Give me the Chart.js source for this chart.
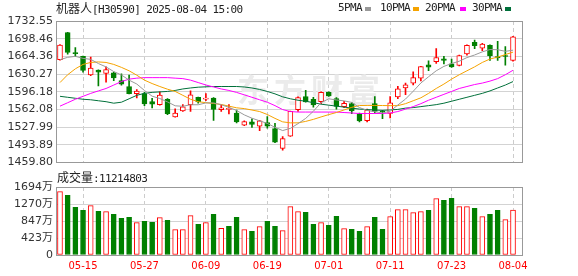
<!DOCTYPE html>
<html>
<head>
<meta charset="utf-8">
<script src="https://cdn.jsdelivr.net/npm/chart.js@4.4.1/dist/chart.umd.min.js"></script>
<style>
  body { margin: 0; background: #fff; }
  #wrap { position: relative; width: 578px; height: 276px; overflow: hidden; background: #fff; }
  canvas { position: absolute; left: 0; }
  .txt { position: absolute; white-space: nowrap; color: #222; line-height: 14px; }
  .cjk { font-family: "Noto Sans CJK SC"; font-size: 12px; }
  .mono { font-family: "DejaVu Sans Mono"; font-size: 11px; letter-spacing: -0.6px; }
  .sw { position: absolute; width: 6px; height: 4px; top: 7px; }
</style>
</head>
<body>
<div id="wrap">
  <canvas id="priceChart" width="578" height="172" style="top:0"></canvas>
  <canvas id="volChart" width="578" height="104" style="top:172px"></canvas>
  <div class="txt" style="left:56px;top:1px"><span class="cjk">机器人</span><span class="mono">[H30590] 2025-08-04 15:00</span></div>
  <div class="txt mono" style="left:338px;top:1px">5PMA</div><div class="sw" style="left:365px;background:#999999"></div>
  <div class="txt mono" style="left:380px;top:1px">10PMA</div><div class="sw" style="left:413px;background:#f5a300"></div>
  <div class="txt mono" style="left:425px;top:1px">20PMA</div><div class="sw" style="left:460px;background:#ff00ff"></div>
  <div class="txt mono" style="left:472px;top:1px">30PMA</div><div class="sw" style="left:505px;background:#00703a"></div>
  <div class="txt" style="left:57px;top:170px"><span class="cjk">成交量</span><span class="mono" id="volLabel"></span></div>
</div>
<script>
// trading days 2025-05-12 .. 2025-08-04
const dates = ['05-12','05-13','05-14','05-15','05-16','05-19','05-20','05-21','05-22','05-23',
  '05-26','05-27','05-28','05-29','05-30','06-03','06-04','06-05','06-06','06-09',
  '06-10','06-11','06-12','06-13','06-16','06-17','06-18','06-19','06-20','06-23',
  '06-24','06-25','06-26','06-27','06-30','07-01','07-02','07-03','07-04','07-07',
  '07-08','07-09','07-10','07-11','07-14','07-15','07-16','07-17','07-18','07-21',
  '07-22','07-23','07-24','07-25','07-28','07-29','07-30','07-31','08-01','08-04'];
const dateTickIdx = [3, 11, 19, 27, 35, 43, 51, 59];

const openP = [1658, 1710.4, 1671, 1664.4, 1628.4, 1638, 1631.4, 1632.7, 1617.6, 1606.2,
  1592.4, 1592.6, 1576.9, 1571.2, 1581.6, 1547.5, 1558.9, 1571.2, 1585.4, 1582,
  1583.9, 1561.7, 1562, 1554.7, 1531.4, 1538.1, 1529.5, 1536.7, 1524.8, 1486.9,
  1510.4, 1561.7, 1587, 1581.6, 1576.9, 1594.9, 1583.1, 1567.4, 1573.4, 1553.5,
  1540.3, 1573.4, 1559, 1554.1, 1586.3, 1603.4, 1612.8, 1622.3, 1647.9, 1654,
  1659.6, 1649.8, 1646.9, 1669.1, 1691.5, 1679.9, 1685.4, 1664, 1665.9, 1656.4];
const highP = [1687, 1710.8, 1681.4, 1665, 1663, 1638.5, 1644, 1634, 1630.8, 1628.4,
  1600.5, 1594.9, 1583.5, 1595.8, 1583, 1563.2, 1571.5, 1597.7, 1586, 1592.4,
  1585, 1571.5, 1571.1, 1560.8, 1540, 1543.8, 1540.9, 1548, 1535.2, 1509.6,
  1558.9, 1586.3, 1599, 1585.4, 1596, 1596, 1585, 1577.8, 1575, 1555,
  1562.6, 1587, 1560.2, 1587, 1606.6, 1612.8, 1634.6, 1645, 1655.5, 1679.2,
  1664.4, 1659.3, 1666.8, 1686.7, 1695.8, 1689.6, 1686.7, 1693.4, 1683, 1703];
const lowP = [1657, 1668.7, 1664.4, 1634, 1627, 1607.2, 1614.7, 1617.6, 1609, 1592,
  1584.4, 1569.3, 1565, 1570, 1552, 1546.9, 1558, 1557.9, 1574, 1578.7,
  1540.9, 1557.9, 1553.2, 1535.8, 1530.5, 1527.2, 1521, 1525.7, 1498, 1483.5,
  1510, 1558.3, 1576, 1566.4, 1573, 1587, 1562.6, 1565.5, 1554, 1538,
  1538, 1555, 1544.3, 1545.6, 1582.5, 1590.5, 1609.4, 1617, 1636.5, 1650.7,
  1649.8, 1643.2, 1646, 1666.8, 1679.2, 1675.4, 1656.4, 1656.4, 1647.3, 1655];
const closeP = [1686, 1671.9, 1669.5, 1637.1, 1641.6, 1633.7, 1639, 1622.7, 1610.6, 1592.4,
  1597.3, 1572.7, 1572.1, 1589.6, 1553.8, 1555, 1567, 1590.1, 1576.5, 1583.5,
  1562, 1565.1, 1563, 1538.1, 1538.6, 1533, 1539.9, 1529.5, 1498.6, 1505.8,
  1558.3, 1584.8, 1576.3, 1570.6, 1594.9, 1588.2, 1567.9, 1573.6, 1558.9, 1539.9,
  1560.8, 1558, 1557, 1574.8, 1601.5, 1609.4, 1623.2, 1644.5, 1643.6, 1662.1,
  1656.4, 1644.1, 1665.9, 1685.8, 1685.2, 1688.1, 1665.9, 1661.1, 1664, 1702.2];

const ma5 = [1657.9, 1662.5, 1664.4, 1660.5, 1658.5, 1650.5, 1644, 1635, 1628.5, 1618.5,
  1611, 1598.5, 1587.5, 1583, 1576.5, 1569, 1568, 1571, 1571, 1574.5,
  1574.5, 1571, 1566, 1560, 1551.5, 1545, 1540, 1535, 1527.5, 1521.2,
  1525.5, 1534.5, 1544.7, 1558.5, 1575, 1582.5, 1580.2, 1578.5, 1575.5, 1565.6,
  1560, 1557.5, 1555.2, 1558.5, 1570.5, 1582, 1597, 1613, 1625, 1636.5,
  1645, 1650.5, 1655, 1662, 1667, 1673, 1677.5, 1677.2, 1674, 1676.3];
const ma10 = [1613.8, 1628.9, 1640.3, 1648.8, 1652.6, 1653.6, 1652.6, 1648.8, 1643.1, 1636.5,
  1628, 1618.5, 1611.9, 1606.2, 1601, 1596.7, 1589.2, 1581.6, 1576.9, 1575,
  1573.5, 1571.6, 1568.3, 1565.1, 1563.6, 1560.8, 1557.9, 1552.2, 1544.7, 1538,
  1536.1, 1536.1, 1538.9, 1542.8, 1547.5, 1552, 1556, 1561, 1566, 1569.5,
  1569.7, 1569.7, 1569.5, 1569.3, 1569.3, 1573.1, 1578.7, 1584.4, 1592.9, 1602.4,
  1610.9, 1620.4, 1628.9, 1636.5, 1644.1, 1652.6, 1659.2, 1663, 1667.8, 1672.5];
const ma20 = [1568.3, 1574.9, 1581.6, 1587.3, 1592.9, 1597.7, 1602.4, 1609, 1615.7, 1620.4,
  1622.3, 1623.3, 1623.3, 1623.3, 1623.3, 1622.3, 1621.4, 1618.5, 1613.8, 1609.1,
  1605.3, 1601.5, 1598.6, 1594.8, 1590.1, 1585.4, 1580.6, 1575.9, 1569.3, 1561.7,
  1557.9, 1556.9, 1556.9, 1556.9, 1556.9, 1556.9, 1556.9, 1556, 1555.1, 1554.1,
  1554.1, 1554.1, 1554.1, 1555.1, 1557.9, 1562.6, 1567.4, 1573.1, 1579.7, 1585.4,
  1591.1, 1596.7, 1602.4, 1606.2, 1610, 1612.8, 1616.6, 1621.4, 1628.9, 1637.5];
const ma30 = [1587.3, 1585.4, 1583.5, 1581.6, 1580.6, 1578.7, 1576.9, 1574, 1575.9, 1582.5,
  1589.2, 1593, 1594.9, 1595.8, 1596.7, 1598.6, 1601.5, 1603.4, 1604.9, 1605.6,
  1606.2, 1606.2, 1606.2, 1606.2, 1605.3, 1603.4, 1600.5, 1596.7, 1592, 1586.3,
  1582.5, 1579.7, 1577.8, 1575, 1572.1, 1570.2, 1568.3, 1566.4, 1564.5, 1562.6,
  1561.7, 1560.7, 1560.2, 1561, 1562, 1564.5, 1565.5, 1567.4, 1569.3, 1571.2,
  1574, 1577.8, 1581.6, 1585.4, 1589.2, 1593, 1597.7, 1603.4, 1609, 1615.7];

// volume in 万 (10k)
const volume = [1579, 1487, 1188, 1113, 1231, 1089, 1081, 1014, 914, 939,
  807, 839, 815, 932, 864, 633, 633, 981, 765, 807,
  1014, 665, 715, 939, 633, 590, 707, 839, 715, 608,
  1206, 1081, 1064, 765, 807, 740, 964, 658, 640, 590,
  707, 939, 640, 957, 1131, 1131, 1056, 1081, 1113, 1405,
  1363, 1412, 1206, 1206, 1163, 957, 1014, 1113, 882, 1121.4803];
const lastVolume = 11214803;

const priceTicks = [1459.80, 1493.89, 1527.99, 1562.08, 1596.18, 1630.27, 1664.36, 1698.46, 1732.55];
const volTicks = [0, 423.5, 847, 1270.5, 1694];
const volTickLabels = ['0', '423万', '847万', '1270万', '1694万'];

document.getElementById('volLabel').textContent = ':' + lastVolume;

const RED = '#ff0000';
const GREEN = '#008000';
const up = closeP.map((c, i) => c >= openP[i]);
const volUp = closeP.map((c, i) => i === 0 ? up[0] : c >= closeP[i - 1]);

const tickFont = { family: '"DejaVu Sans", "Noto Sans CJK SC"', size: 11 };

// box round the plot area
const frame = {
    id: 'frame',
    afterDatasetsDraw(chart) {
        const { ctx, chartArea: a } = chart;
        ctx.save();
        ctx.strokeStyle = '#999999';
        ctx.lineWidth = 1;
        ctx.strokeRect(Math.floor(a.left) + 0.5, Math.floor(a.top) + 0.5,
            Math.round(a.right - a.left), Math.round(a.bottom - a.top));
        ctx.restore();
    }
};

const watermark = {
    id: 'watermark',
    beforeDatasetsDraw(chart) {
        const ctx = chart.ctx;
        ctx.save();
        ctx.font = 'bold 32px "Noto Sans CJK SC"';
        ctx.fillStyle = '#ebebeb';
        ctx.textAlign = 'center';
        ctx.textBaseline = 'middle';
        ['东', '方', '财', '富'].forEach((ch, k) => ctx.fillText(ch, 253 + k * 37, 90));
        ctx.restore();
    }
};

const xScale = (showLabels, height) => ({
    type: 'linear',
    min: -0.52,
    max: 60.17,
    offset: false,
    bounds: 'data',
    afterBuildTicks: s => { s.ticks = dateTickIdx.map(v => ({ value: v })); },
    afterFit: s => { s.height = height; },
    grid: { color: '#cccccc', offset: false, drawTicks: false },
    border: { display: false, dash: [4, 3] },
    ticks: {
        display: showLabels,
        autoSkip: false,
        maxRotation: 0,
        padding: 5,
        color: RED,
        font: { family: '"DejaVu Sans"', size: 10 },
        callback: v => dates[v]
    }
});

const line = (label, values, color) => ({
    type: 'line',
    label: label,
    data: values.map((v, i) => ({ x: i, y: v })),
    borderColor: color,
    borderWidth: 1,
    pointRadius: 0,
    tension: 0
});

// price panel: MA lines, candle bodies, wicks
new Chart(document.getElementById('priceChart'), {
    type: 'bar',
    data: {
        datasets: [
            line('5PMA', ma5, '#999999'),
            line('10PMA', ma10, '#f5a300'),
            line('20PMA', ma20, '#ff00ff'),
            line('30PMA', ma30, '#00703a'),
            {
                type: 'bar',
                label: 'body',
                data: openP.map((o, i) => ({ x: i, y: [o, closeP[i]] })),
                backgroundColor: up.map(u => u ? '#ffffff' : GREEN),
                borderColor: up.map(u => u ? RED : GREEN),
                borderWidth: 1,
                borderSkipped: false,
                barThickness: 5,
                minBarLength: 1,
                grouped: false
            },
            {
                type: 'bar',
                label: 'wick',
                data: lowP.map((l, i) => ({ x: i, y: [l, highP[i]] })),
                backgroundColor: up.map(u => u ? RED : GREEN),
                borderWidth: 0,
                barThickness: 1,
                grouped: false
            }
        ]
    },
    options: {
        responsive: false,
        animation: false,
        events: [],
        layout: { padding: { left: 0, right: 56, top: 21, bottom: 0 } },
        plugins: { legend: { display: false }, tooltip: { enabled: false } },
        scales: {
            x: xScale(false, 7),
            y: {
                type: 'linear',
                min: 1459.80,
                max: 1732.55,
                beginAtZero: false,
                bounds: 'data',
                afterBuildTicks: s => { s.ticks = priceTicks.map(v => ({ value: v })); },
                afterFit: s => { s.width = 56; },
                grid: { color: '#d3d3d3', drawTicks: false },
                border: { display: false },
                ticks: {
                    autoSkip: false,
                    padding: 3,
                    color: '#333333',
                    font: tickFont,
                    callback: v => v.toFixed(2)
                }
            }
        }
    },
    plugins: [watermark, frame]
});

// volume panel
new Chart(document.getElementById('volChart'), {
    type: 'bar',
    data: {
        datasets: [{
            label: 'volume',
            data: volume.map((v, i) => ({ x: i, y: v })),
            backgroundColor: volUp.map(u => u ? '#ffffff' : GREEN),
            borderColor: volUp.map(u => u ? RED : GREEN),
            borderWidth: 1,
            borderSkipped: false,
            barThickness: 5,
            grouped: false
        }]
    },
    options: {
        responsive: false,
        animation: false,
        events: [],
        layout: { padding: { left: 0, right: 56, top: 15, bottom: 0 } },
        plugins: { legend: { display: false }, tooltip: { enabled: false } },
        scales: {
            x: xScale(true, 21),
            y: {
                type: 'linear',
                min: 0,
                max: 1694,
                bounds: 'data',
                afterBuildTicks: s => { s.ticks = volTicks.map(v => ({ value: v })); },
                afterFit: s => { s.width = 56; },
                grid: { color: '#d3d3d3', drawTicks: false },
                border: { display: false },
                ticks: {
                    autoSkip: false,
                    padding: 3,
                    color: '#333333',
                    font: tickFont,
                    callback: (v, i) => volTickLabels[i]
                }
            }
        }
    },
    plugins: [frame]
});
</script>
</body>
</html>
